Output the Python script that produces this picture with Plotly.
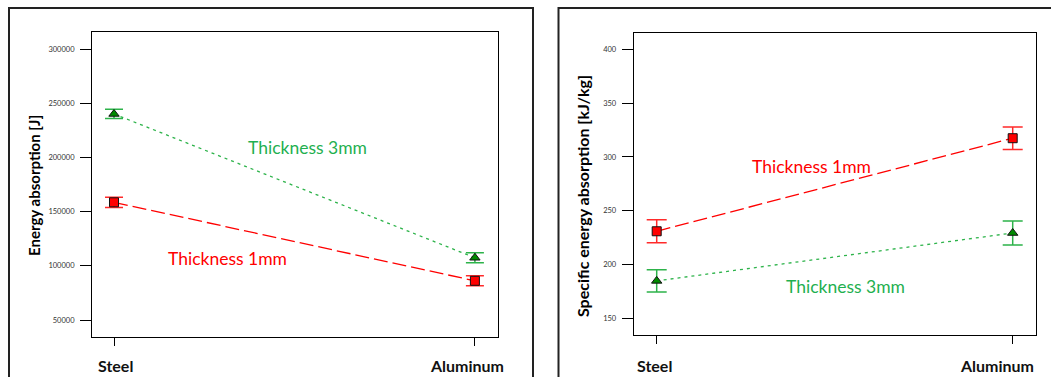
import plotly.graph_objects as go

W, H = 1051, 377

materials = ["Steel", "Aluminum"]

energy_1mm = [158700, 86200]
energy_1mm_err = [4700, 4600]
energy_3mm = [240300, 107500]
energy_3mm_err = [4300, 4600]

sea_1mm = [230.9, 317.4]
sea_1mm_err = [10.6, 10.5]
sea_3mm = [184.8, 229.3]
sea_3mm_err = [10.3, 11.1]

energy_ticks = [50000, 100000, 150000, 200000, 250000, 300000]
sea_ticks = [150, 200, 250, 300, 350, 400]

RED = "#ff0000"
RED_ERR = "#ff2a2a"
GREEN_LINE = "#2db34a"
GREEN_FILL = "#008a00"
GREEN_TEXT = "#1fb050"

FONT = "Lato, 'Open Sans', sans-serif"


def px(x):
    return x / W


def py(y):
    return 1 - y / H


fig = go.Figure()


def add_series(xa, ya, y, err, color, errcolor, dash, symbol, fill, errw):
    fig.add_trace(go.Scatter(
        x=materials, y=y, xaxis=xa, yaxis=ya, mode="lines+markers",
        line=dict(color=color, width=1.3, dash=dash),
        marker=dict(symbol=symbol, size=9, color=fill, line=dict(color="#111", width=1)),
        error_y=dict(type="data", array=err, visible=True, color=errcolor,
                     thickness=1.5, width=errw),
        showlegend=False, cliponaxis=False,
    ))


add_series("x", "y", energy_1mm, energy_1mm_err, RED, RED_ERR, "14px,5px", "square", RED, 9)
add_series("x", "y", energy_3mm, energy_3mm_err, GREEN_LINE, GREEN_LINE, "3px,4px", "triangle-up", GREEN_FILL, 9)
add_series("x2", "y2", sea_1mm, sea_1mm_err, RED, RED_ERR, "14px,5px", "square", RED, 10)
add_series("x2", "y2", sea_3mm, sea_3mm_err, GREEN_LINE, GREEN_LINE, "3px,4px", "triangle-up", GREEN_FILL, 10)

common_x = dict(type="category", showgrid=False, zeroline=False, showline=True,
                linecolor="#000", linewidth=1, mirror=True, ticks="outside",
                ticklen=8, tickcolor="#000", showticklabels=False)
common_y = dict(showgrid=False, zeroline=False, showline=True, linecolor="#000",
                linewidth=1, mirror=True, ticks="outside", ticklen=11,
                tickcolor="#000", ticklabelstandoff=4,
                tickfont=dict(size=7.5, color="#333", family=FONT))

fig.update_layout(
    width=W, height=H, margin=dict(l=0, r=0, t=0, b=0),
    paper_bgcolor="white", plot_bgcolor="white",
    font=dict(family=FONT),
    xaxis=dict(common_x, domain=[px(92), px(498)], range=[-0.061, 1.064], anchor="y"),
    yaxis=dict(common_y, domain=[py(337), py(32)], range=[34300, 316000],
               tickvals=energy_ticks, ticktext=[str(v) for v in energy_ticks], anchor="x"),
    xaxis2=dict(common_x, domain=[px(633.7), px(1035.7)], range=[-0.0646, 1.0646], anchor="y2"),
    yaxis2=dict(common_y, domain=[py(335), py(33.3)], range=[134.5, 414.9],
                tickvals=sea_ticks, ticktext=[str(v) for v in sea_ticks], anchor="x2"),
)

# outer panel frames
fig.add_shape(type="rect", xref="paper", yref="paper", x0=px(9), x1=px(533), y0=py(390), y1=py(8),
              line=dict(color="#222", width=2), layer="below")
fig.add_shape(type="rect", xref="paper", yref="paper", x0=px(558.5), x1=px(1060), y0=py(390), y1=py(8),
              line=dict(color="#222", width=2), layer="below")

C = dict(xanchor="center", yanchor="middle", showarrow=False)
ann = []
# axis titles
ann.append(dict(C, text="<b>Energy absorption [J]</b>", xref="paper", yref="paper", x=px(34), y=py(186),
                textangle=-90, font=dict(size=15, color="#000", family=FONT)))
ann.append(dict(C, text="<b>Specific energy absorption [kJ/kg]</b>", xref="paper", yref="paper",
                x=px(582), y=py(196), textangle=-90,
                font=dict(size=16, color="#000", family=FONT)))
# category labels
for xa, shifts in (("x", (1, -8)), ("x2", (-2, -16))):
    for m, s in zip(materials, shifts):
        ann.append(dict(C, text=f"<b>{m}</b>", xref=xa, yref="paper", x=m, y=py(365), xshift=s,
                        font=dict(size=16, color="#111", family=FONT)))
# series labels
ann.append(dict(C, text="Thickness 3mm", xref="paper", yref="paper", x=px(307), y=py(147),
                font=dict(size=17.5, color=GREEN_TEXT, family=FONT)))
ann.append(dict(C, text="Thickness 1mm", xref="paper", yref="paper", x=px(227), y=py(258),
                font=dict(size=17.5, color=RED, family=FONT)))
ann.append(dict(C, text="Thickness 1mm", xref="paper", yref="paper", x=px(811), y=py(166),
                font=dict(size=17.5, color=RED, family=FONT)))
ann.append(dict(C, text="Thickness 3mm", xref="paper", yref="paper", x=px(845), y=py(286),
                font=dict(size=17.5, color=GREEN_TEXT, family=FONT)))
fig.update_layout(annotations=ann)

fig.write_html("out.html")
